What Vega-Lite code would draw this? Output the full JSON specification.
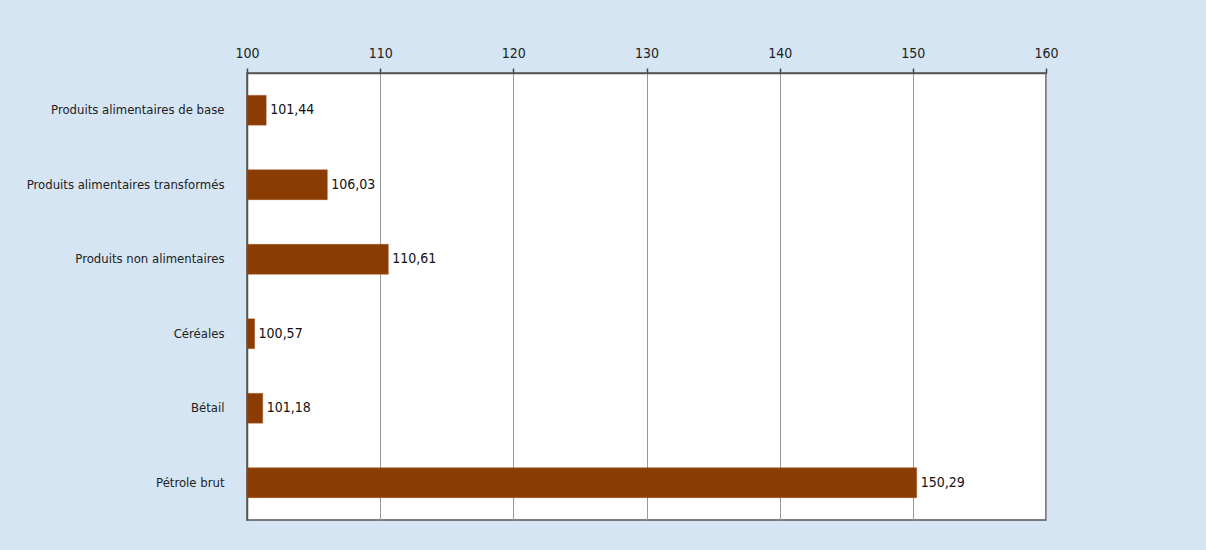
{
  "$schema": "https://vega.github.io/schema/vega-lite/v6.json",
  "width": 799,
  "height": 447,
  "autosize": "none",
  "padding": {"left": 247, "top": 73, "right": 160, "bottom": 30},
  "background": "#d6e5f4",
  "config": {
    "view": {"fill": "white", "stroke": "#555555", "strokeWidth": 1.5},
    "font": "DejaVu Sans Condensed, Roboto, sans-serif",
    "locale": {"number": {"decimal": ",", "thousands": " ", "grouping": [3], "currency": ["", " €"]}}
  },
  "data": {
    "values": [
      {"produit": "Produits alimentaires de base", "indice": 101.44},
      {"produit": "Produits alimentaires transformés", "indice": 106.03},
      {"produit": "Produits non alimentaires", "indice": 110.61},
      {"produit": "Céréales", "indice": 100.57},
      {"produit": "Bétail", "indice": 101.18},
      {"produit": "Pétrole brut", "indice": 150.29}
    ]
  },
  "encoding": {
    "y": {
      "field": "produit", "type": "nominal", "sort": null,
      "scale": {"paddingInner": 0.6, "paddingOuter": 0.3},
      "axis": {"title": null, "ticks": false, "labelPadding": 23, "labelLimit": 300, "labelFontSize": 13, "labelColor": "#222222", "labelFont": "DejaVu Sans Condensed, Roboto, sans-serif", "domainColor": "#555555", "domainWidth": 1.5}
    }
  },
  "layer": [
    {
      "mark": {"type": "bar", "color": "#8a3c03", "stroke": "#a0521a", "strokeWidth": 0.5},
      "encoding": {
        "x": {
          "field": "indice", "type": "quantitative",
          "scale": {"domain": [100, 160], "nice": false, "zero": false},
          "axis": {"orient": "top", "title": null, "values": [100, 110, 120, 130, 140, 150, 160], "labelFlush": false, "grid": true, "gridColor": "#999999", "gridWidth": 1, "tickColor": "#444444", "tickSize": 5, "tickWidth": 1.5, "labelPadding": 8, "labelFontSize": 14, "labelColor": "#222222", "labelFont": "DejaVu Sans Condensed, Roboto, sans-serif", "domainColor": "#555555", "domainWidth": 1.5, "format": "d"}
        },
        "x2": {"datum": 100}
      }
    },
    {
      "mark": {"type": "text", "align": "left", "baseline": "middle", "dx": 4, "fontSize": 14, "fontWeight": 500, "color": "#111111", "font": "DejaVu Sans Condensed, Roboto, sans-serif"},
      "encoding": {
        "x": {"field": "indice", "type": "quantitative"},
        "text": {"field": "indice", "type": "quantitative", "format": ".2f"}
      }
    }
  ]
}
